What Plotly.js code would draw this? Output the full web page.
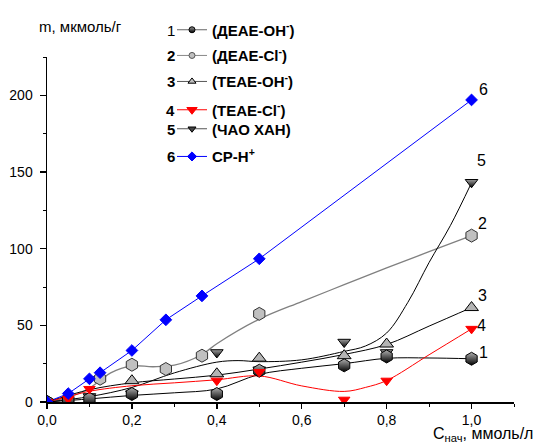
<!DOCTYPE html>
<html><head><meta charset="utf-8">
<script src="https://cdn.plot.ly/plotly-3.0.1.min.js"></script>
<style>html,body{margin:0;padding:0;background:#fff}#chart{width:542px;height:443px}</style>
</head><body><div id="chart"></div>
<script>
// ---- measured points (x = C нач, ммоль/л ; y = m, мкмоль/г) ----
const x1 = [0, 0.05, 0.1, 0.2, 0.4, 0.5, 0.7, 0.8, 1.0];
const y1 = [0, 1, 2, 5.2, 5.2, 20.4, 23.9, 29.7, 28.2];
const x2 = [0, 0.05, 0.125, 0.2, 0.28, 0.365, 0.5, 1.0];
const y2 = [0, 1.5, 15.2, 24.3, 21.5, 30.2, 57.5, 108.5];
const x3 = [0, 0.2, 0.4, 0.5, 0.7, 0.8, 1.0];
const y3 = [0, 13.9, 18.4, 28.6, 30.2, 37.8, 61.6];
const x4 = [0, 0.05, 0.1, 0.4, 0.5, 0.7, 0.8, 1.0];
const y4 = [0, 2, 8.5, 13.9, 19.5, 1.5, 13.9, 47.7];
const x5 = [0, 0.1, 0.2, 0.4, 0.5, 0.7, 0.8, 1.0];
const y5 = [0, 3.6, 5.4, 32.3, 21, 39.1, 32.3, 143.3];
const x6 = [0, 0.05, 0.1, 0.125, 0.2, 0.28, 0.365, 0.5, 1.0];
const y6 = [0, 5.5, 15.1, 19.1, 33.6, 53.6, 69.2, 93.4, 197];

// ---- smoothed fit curves ----
const f1x = [0, 0.1, 0.2, 0.3, 0.4, 0.5, 0.6, 0.7, 0.8, 0.9, 1.0];
const f1y = [0, 2, 4.3, 6, 8.5, 18, 22, 25, 28.5, 28.7, 28.2];
const f2x = [0, 0.05, 0.1, 0.125, 0.15, 0.2, 0.25, 0.3, 0.365, 0.4, 0.5, 0.6, 0.7, 0.8, 0.9, 1.0];
const f2y = [0, 3, 9, 14, 19, 23.5, 23, 24, 31, 38, 54, 65.5, 76.5, 87.5, 98, 108.5];
const f3x = [0, 0.1, 0.2, 0.3, 0.4, 0.5, 0.6, 0.7, 0.8, 0.9, 1.0];
const f3y = [0, 8, 12.5, 15, 17.5, 21.5, 26, 31, 37.5, 49.5, 61.6];
const f4x = [0, 0.05, 0.1, 0.2, 0.3, 0.4, 0.5, 0.6, 0.7, 0.75, 0.8, 0.9, 1.0];
const f4y = [0, 3.5, 7, 10.6, 12.5, 14.5, 17, 10.5, 6.9, 9.5, 14, 30.8, 47.7];
const f5x = [0, 0.1, 0.2, 0.3, 0.4, 0.45, 0.5, 0.6, 0.7, 0.75, 0.8, 0.85, 0.9, 0.95, 1.0];
const f5y = [0, 3.5, 9.5, 19, 26, 27, 26.3, 27.5, 33, 36.5, 45, 65, 91, 115, 143];

const seriesNums = ['1', '2', '3', '4', '5', '6'];
const seriesNames = [
  '<b>(ДЕАЕ-ОН<sup>-</sup>)</b>',
  '<b>(ДЕАЕ-Сl<sup>-</sup>)</b>',
  '<b>(ТЕАЕ-ОН<sup>-</sup>)</b>',
  '<b>(ТЕАЕ-Сl<sup>-</sup>)</b>',
  '<b>(ЧАО ХАН)</b>',
  '<b>СР-Н<sup>+</sup></b>'
];
const xTickVals = [0, 0.2, 0.4, 0.6, 0.8, 1.0];
const yTickVals = [0, 50, 100, 150, 200];

const FONT = 'Liberation Sans, Arial, sans-serif';
const L = 47, R = 28, T = 57, B = 41, WID = 542, HEI = 443;
const PW = WID - L - R, PH = HEI - T - B;
const px = v => (v - L) / PW;
const py = v => (HEI - B - v) / PH;

const fit = (x, y, color, w) => ({x, y, type: 'scatter', mode: 'lines', showlegend: false, hoverinfo: 'skip',
  line: {color, width: w, shape: 'spline', smoothing: 1}});
const pts = (x, y, marker) => ({x, y, type: 'scatter', mode: 'markers', showlegend: false, marker});

const grad = {type: 'vertical', color: '#000'};
const traces = [
  fit(f2x, f2y, '#808080', 1.3),
  fit(f1x, f1y, '#000', 1),
  fit(f3x, f3y, '#000', 1),
  fit(f5x, f5y, '#000', 1),
  fit(f4x, f4y, '#ff0000', 1),
  {x: x6, y: y6, type: 'scatter', mode: 'lines', showlegend: false, line: {color: '#0000ff', width: 1}},
  pts(x2, y2, {symbol: 'hexagon', size: 13, color: '#c0c0c0', line: {color: '#333', width: 1}}),
  pts(x3, y3, {symbol: 'triangle-up', size: 12, color: '#b4b4b4', line: {color: '#000', width: 1}}),
  pts(x5, y5, {symbol: 'triangle-down', size: 11, color: '#a0a0a0', gradient: grad, line: {color: '#000', width: 1}}),
  pts(x1, y1, {symbol: 'hexagon', size: 13, color: '#b0b0b0', gradient: grad, line: {color: '#000', width: 1}}),
  pts(x4, y4, {symbol: 'triangle-down', size: 10, color: '#ff0000', line: {color: '#ff0000', width: 1}}),
  pts(x6, y6, {symbol: 'diamond', size: 9, color: '#0000ff', line: {color: '#0000ff', width: 1}})
];

// legend-only entries (one small legend per row)
const legStyles = [
  {line: '#666', marker: {symbol: 'circle', size: 6, color: '#999', gradient: grad, line: {color: '#000', width: 1}}},
  {line: '#888', marker: {symbol: 'circle', size: 6, color: '#c0c0c0', line: {color: '#555', width: 1}}},
  {line: '#555', marker: {symbol: 'triangle-up', size: 7, color: '#c0c0c0', line: {color: '#000', width: 1}}},
  {line: '#ff0000', marker: {symbol: 'triangle-down', size: 9, color: '#ff0000', line: {color: '#ff0000', width: 1}}},
  {line: '#555', marker: {symbol: 'triangle-down', size: 7, color: '#444', line: {color: '#000', width: 1}}},
  {line: '#0000ff', marker: {symbol: 'diamond', size: 7, color: '#0000ff', line: {color: '#0000ff', width: 1}}}
];
const legRows = [30, 55.7, 81.7, 110, 129, 156.7];
const layout = {
  width: WID, height: HEI,
  margin: {l: L, r: R, t: T, b: B, pad: 0},
  paper_bgcolor: '#fff', plot_bgcolor: '#fff',
  separators: ', ',
  font: {family: FONT, size: 14, color: '#000'},
  xaxis: {range: [0, 1.1], showline: true, linecolor: '#000', linewidth: 1.5, zeroline: false, showgrid: false,
    tickmode: 'array', tickvals: xTickVals, tickformat: '.1f', ticks: 'outside', ticklen: 5, tickwidth: 1.5,
    tickcolor: '#000', ticklabelstandoff: 0,
    minor: {dtick: 0.1, tick0: 0, ticks: 'outside', ticklen: 3, tickwidth: 1, tickcolor: '#000'},
    tickfont: {family: FONT, size: 14}},
  yaxis: {range: [0, 225], showline: true, linecolor: '#000', linewidth: 1.5, zeroline: false, showgrid: false,
    tickmode: 'array', tickvals: yTickVals, ticks: 'outside', ticklen: 6, tickwidth: 1.5, tickcolor: '#000',
    ticklabelstandoff: 4,
    minor: {dtick: 25, tick0: 0, ticks: 'outside', ticklen: 3, tickwidth: 1, tickcolor: '#000'},
    tickfont: {family: FONT, size: 14}},
  annotations: [
    {xref: 'paper', yref: 'paper', x: px(37), y: py(26), xanchor: 'left', yanchor: 'middle', showarrow: false,
     text: 'm, мкмоль/г', font: {family: FONT, size: 15}},
    {xref: 'paper', yref: 'paper', x: px(431), y: py(434), xanchor: 'left', yanchor: 'middle', showarrow: false,
     text: 'С<sub>нач</sub>, ммоль/л', font: {family: FONT, size: 16}}
  ],
  showlegend: true
};

const lastPts = [[x1, y1, 12, 6], [x2, y2, 11, 12], [x3, y3, 11, 12], [x4, y4, 10, 3], [x5, y5, 10, 22], [x6, y6, 12, 10]];
lastPts.forEach((s, i) => {
  const n = s[0].length - 1;
  layout.annotations.push({x: s[0][n], y: s[1][n], xref: 'x', yref: 'y', xshift: s[2], yshift: s[3],
    xanchor: 'center', yanchor: 'middle', showarrow: false, text: seriesNums[i], font: {family: FONT, size: 16}});
});

legStyles.forEach((st, i) => {
  const key = i === 0 ? 'legend' : 'legend' + (i + 1);
  traces.push({x: [null], y: [null], type: 'scatter', mode: 'lines+markers', name: seriesNames[i],
    legend: key, showlegend: true, line: {color: st.line, width: 1}, marker: st.marker});
  layout[key] = {x: px(172), y: py(legRows[i]), xanchor: 'left', yanchor: 'middle', bgcolor: 'rgba(0,0,0,0)',
    borderwidth: 0, font: {family: FONT, size: 15, color: '#000'}, itemsizing: 'trace'};
  layout.annotations.push({xref: 'paper', yref: 'paper', x: px(177), y: py(legRows[i]), xanchor: 'right',
    yanchor: 'middle', showarrow: false, text: i === 0 ? seriesNums[i] : '<b>' + seriesNums[i] + '</b>',
    font: {family: FONT, size: 15}});
});

Plotly.newPlot('chart', traces, layout, {displayModeBar: false, staticPlot: true});
</script></body></html>
